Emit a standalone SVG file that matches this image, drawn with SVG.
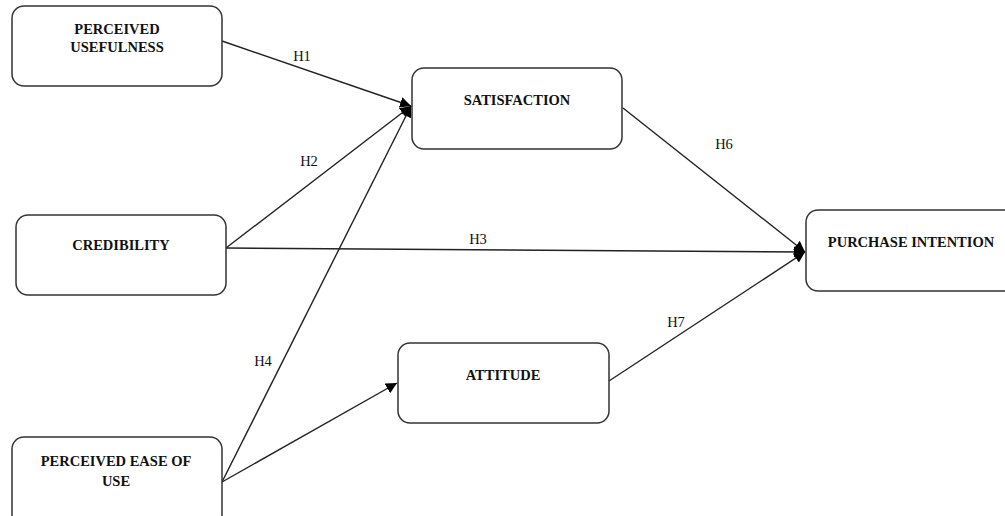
<svg xmlns="http://www.w3.org/2000/svg" width="1005" height="516" viewBox="0 0 1005 516">
<style>
.box{fill:#fff;stroke:#333;stroke-width:1.5}
.lbl{font-family:"Liberation Serif","Times New Roman",serif;font-weight:bold;font-size:14.5px;fill:#111;text-anchor:middle}
.h{font-family:"Liberation Serif","Times New Roman",serif;font-size:14.5px;fill:#111;text-anchor:middle}
.ln{stroke:#222;stroke-width:1.4;fill:none;marker-end:url(#ah)}
</style>
<defs>
<marker id="ah" viewBox="0 0 10 10" refX="10" refY="5" markerWidth="11" markerHeight="11" markerUnits="userSpaceOnUse" orient="auto">
<path d="M0,0 L10,5 L0,10 z" fill="#000"/>
</marker>
</defs>
<rect width="1005" height="516" fill="#fff"/>
<g id="connectors">
<line class="ln" x1="222" y1="41" x2="411" y2="106"/>
<line class="ln" x1="226" y1="248" x2="411" y2="106"/>
<line class="ln" x1="226" y1="248" x2="805" y2="252"/>
<line class="ln" x1="222" y1="482" x2="411" y2="106"/>
<line class="ln" x1="222" y1="482" x2="397" y2="383"/>
<line class="ln" x1="623" y1="108" x2="805" y2="252"/>
<line class="ln" x1="609" y1="381" x2="805" y2="252"/>
<text class="h" x="302" y="61">H1</text>
<text class="h" x="309" y="166">H2</text>
<text class="h" x="478" y="244">H3</text>
<text class="h" x="263" y="366">H4</text>
<text class="h" x="724" y="149">H6</text>
<text class="h" x="676" y="327">H7</text>
</g>
<g id="perceived-usefulness">
<rect class="box" x="12" y="6" width="210" height="80" rx="12"/>
<text class="lbl" x="117" y="34">PERCEIVED</text>
<text class="lbl" x="117" y="52">USEFULNESS</text>
</g>
<g id="satisfaction">
<rect class="box" x="412" y="68" width="210" height="81" rx="12"/>
<text class="lbl" x="517" y="105">SATISFACTION</text>
</g>
<g id="credibility">
<rect class="box" x="16" y="215" width="210" height="80" rx="12"/>
<text class="lbl" x="121" y="250">CREDIBILITY</text>
</g>
<g id="purchase-intention">
<rect class="box" x="806" y="210" width="212" height="81" rx="12"/>
<text class="lbl" x="911" y="247">PURCHASE INTENTION</text>
</g>
<g id="attitude">
<rect class="box" x="398" y="343" width="211" height="80" rx="12"/>
<text class="lbl" x="503" y="380">ATTITUDE</text>
</g>
<g id="perceived-ease-of-use">
<rect class="box" x="12" y="437" width="210" height="90" rx="12"/>
<text class="lbl" x="116" y="466">PERCEIVED EASE OF</text>
<text class="lbl" x="116" y="486">USE</text>
</g>
</svg>
